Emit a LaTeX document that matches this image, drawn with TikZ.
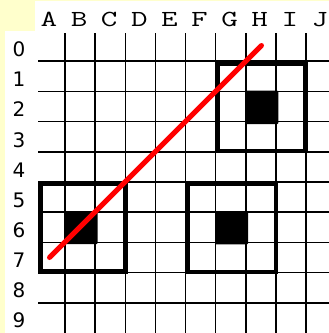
\documentclass[tikz,border=0pt]{standalone}
\usepackage{fontspec}
\newfontfamily\letterfont[FakeStretch=1.4]{Latin Modern Mono}
\newfontfamily\digitfont{DejaVu Sans}
\definecolor{bgyellow}{HTML}{FFFFCC}
\begin{document}
\begin{tikzpicture}[x=1pt,y=-1pt,
  gridline/.style={line width=1.6pt,black},
  bigbox/.style={line width=4.6pt,black,line join=miter},
  blackcell/.style={fill=black,rounded corners=1pt},
  collabel/.style={inner sep=0pt,anchor=base,font=\letterfont\fontsize{23}{24}\selectfont},
  rowlabel/.style={inner sep=0pt,anchor=base,font=\digitfont\fontsize{20}{20}\selectfont},
  redline/.style={line width=5pt,red,line cap=round}]
\useasboundingbox (0,0) rectangle (329,333);
% background
\fill[bgyellow] (0,0) rectangle (329,333);
\fill[white] (35,1) rectangle (329,333);
\fill[white] (5,31) rectangle (329,333);
% column labels
\foreach \l [count=\i from 0] in {A,B,C,D,E,F,G,H,I,J}
  \node[collabel] (col\l) at ({49+30.1*\i},26.7) {\l};
% row labels
\foreach \r in {0,...,9}
  \node[rowlabel] (row\r) at (19,{56.6+30.15*\r}) {\r};
% grid
\foreach \k in {1,...,9} {
  \draw[gridline] ({35+30.1*\k},33) -- ({35+30.1*\k},333);
  \draw[gridline] (38,{31+30.2*\k}) -- (329,{31+30.2*\k});
}
% filled cells
\fill[blackcell] (245,90.7) rectangle (278.3,124);
\fill[blackcell] (65,211.7) rectangle (97.7,244);
\fill[blackcell] (215,211) rectangle (248,244.3);
% thick boxes
\draw[bigbox] (218,63.5) rectangle (305.7,151);
\draw[bigbox] (40.3,183.3) rectangle (125.5,271.7);
\draw[bigbox] (188,184) rectangle (276,271.8);
% red line
\coordinate (start) at (49.5,257.5);
\coordinate (finish) at (261.5,45.5);
\draw[redline] (start) -- (finish);
\end{tikzpicture}
\end{document}
